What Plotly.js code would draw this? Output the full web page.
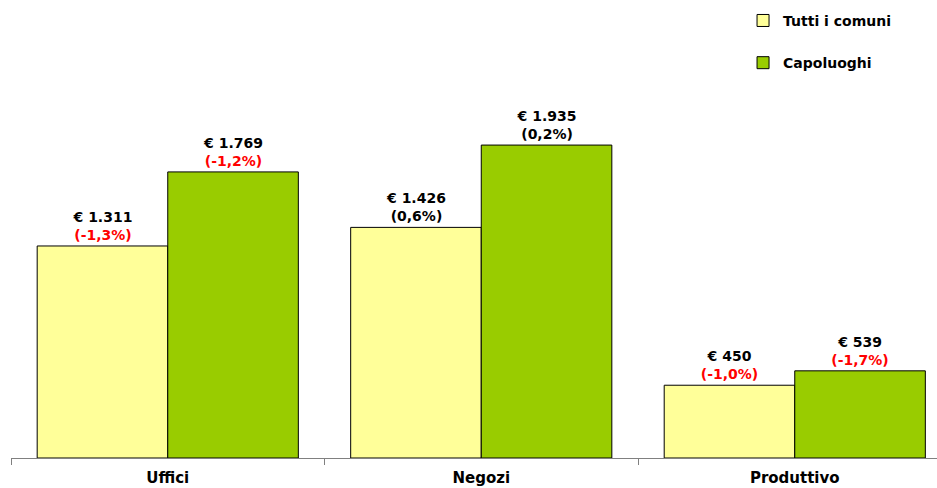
<!DOCTYPE html>
<html>
<head>
<meta charset="utf-8">
<script src="https://cdn.plot.ly/plotly-3.0.1.min.js"></script>
<style>html,body{margin:0;padding:0;background:#fff;}</style>
</head>
<body>
<div id="chart" style="width:937px;height:488px;"></div>
<script>
const categories = ["Uffici", "Negozi", "Produttivo"];
const seriesNames = ["Tutti i comuni", "Capoluoghi"];
const tuttiValues = [1311, 1426, 450];
const tuttiChanges = [-1.3, 0.6, -1.0];
const capoValues = [1769, 1935, 539];
const capoChanges = [-1.2, 0.2, -1.7];

function fmtEuro(v) {
  return "€ " + v.toString().replace(/\B(?=(\d{3})+(?!\d))/g, ".");
}
function fmtChange(c) {
  const s = "(" + c.toFixed(1).replace(".", ",") + "%)";
  const col = c < 0 ? "#FF0000" : "#000000";
  return "<span style='color:" + col + "'>" + s + "</span>";
}
function labels(vals, chg) {
  return vals.map((v, i) => fmtEuro(v) + "<br>" + fmtChange(chg[i]));
}

const font = "DejaVu Sans, Verdana, sans-serif";

const traces = [
  {
    type: "bar", name: seriesNames[0], x: categories, y: tuttiValues,
    text: labels(tuttiValues, tuttiChanges), textposition: "outside",
    textfont: {family: font, size: 14, color: "#000", weight: "bold"},
    marker: {color: "#FFFF99", line: {color: "#000", width: 1}},
    legendgroup: "a", cliponaxis: false, hoverinfo: "skip"
  },
  {
    type: "bar", name: seriesNames[1], x: categories, y: capoValues,
    text: labels(capoValues, capoChanges), textposition: "outside",
    textfont: {family: font, size: 14, color: "#000", weight: "bold"},
    marker: {color: "#99CC00", line: {color: "#000", width: 1}},
    legendgroup: "b", cliponaxis: false, hoverinfo: "skip"
  }
];

const layout = {
  width: 937, height: 488,
  margin: {l: 11, r: 0, t: 0, b: 30, autoexpand: false},
  paper_bgcolor: "#fff", plot_bgcolor: "#fff",
  barmode: "group", bargap: 0.167, bargroupgap: 0,
  font: {family: font, color: "#000"},
  xaxis: {
    type: "category", range: [-0.5, 2.4537], automargin: false,
    showline: true, linecolor: "#808080", linewidth: 1,
    ticks: "outside", tickson: "boundaries", ticklen: 6, tickcolor: "#808080",
    ticklabelstandoff: 6,
    tickfont: {family: font, size: 15, color: "#000", weight: "bold"},
    showgrid: false, zeroline: false, fixedrange: true
  },
  yaxis: {
    range: [0, 2832], visible: false, showgrid: false, zeroline: false, fixedrange: true
  },
  showlegend: true,
  legend: {
    xref: "container", yref: "container",
    x: 0.793, y: 0.99, xanchor: "left", yanchor: "top",
    font: {family: font, size: 14, color: "#000", weight: "bold"},
    tracegroupgap: 21, traceorder: "grouped",
    bgcolor: "rgba(0,0,0,0)"
  }
};

Plotly.newPlot("chart", traces, layout, {displayModeBar: false, staticPlot: true});
</script>
</body>
</html>
